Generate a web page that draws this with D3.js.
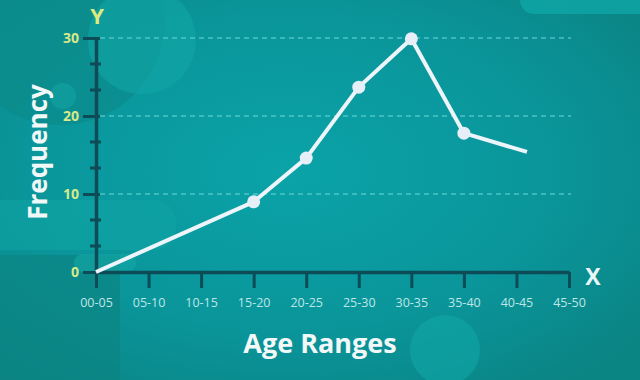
<!DOCTYPE html>
<html>
<head>
<meta charset="utf-8">
<script src="https://cdn.jsdelivr.net/npm/d3@7"></script>
<style>
  body { margin: 0; background: #0a8f93; }
  svg { display: block; font-family: "Open Sans", Lato, sans-serif; }
</style>
</head>
<body>
<div id="chart"></div>
<script>
var svgWidth = 640;
var svgHeight = 380;

// Category labels on the x axis (start age of each range)
var ageRanges = ["00-05", "05-10", "10-15", "15-20", "20-25", "25-30", "30-35", "35-40", "40-45", "45-50"];
var rangeStarts = [0, 5, 10, 15, 20, 25, 30, 35, 40, 45];

// Line data
var pointAges = [0, 15, 20, 25, 30, 35, 41];
var frequency = [0, 9, 14.6, 23.7, 29.9, 17.8, 15.4];
var hasMarker = [false, true, true, true, true, true, false];

// Y axis ticks
var yMajorTicks = [0, 10, 20, 30];
var yMinorTicks = [3.33, 6.67, 13.33, 16.67, 23.33, 26.67];
var gridTicks = [10, 20, 30];

var margin = { top: 38, right: 71, bottom: 108, left: 96 };
var chartWidth = svgWidth - margin.left - margin.right;
var chartHeight = svgHeight - margin.top - margin.bottom;

var svg = d3.select("#chart")
  .append("svg")
  .attr("width", svgWidth)
  .attr("height", svgHeight);

// Background gradient
var defs = svg.append("defs");
var grad = defs.append("radialGradient")
  .attr("id", "bg")
  .attr("cx", "45%").attr("cy", "45%").attr("r", "70%");
grad.append("stop").attr("offset", "0%").attr("stop-color", "#0aa3a8");
grad.append("stop").attr("offset", "60%").attr("stop-color", "#0a959a");
grad.append("stop").attr("offset", "100%").attr("stop-color", "#0b8484");

svg.append("rect")
  .attr("width", svgWidth)
  .attr("height", svgHeight)
  .attr("fill", "url(#bg)");

// Decorative shapes
var deco = svg.append("g");
deco.append("rect").attr("x", -20).attr("y", 255).attr("width", 140).attr("height", 140).attr("fill", "#0b8583").attr("opacity", 0.7);
deco.append("circle").attr("cx", 60).attr("cy", 20).attr("r", 105).attr("fill", "#0b8c8c").attr("opacity", 0.8);
deco.append("circle").attr("cx", 142).attr("cy", 40).attr("r", 54).attr("fill", "#12a8a8").attr("opacity", 0.55);
deco.append("circle").attr("cx", 63).attr("cy", 96).attr("r", 13).attr("fill", "#12a3a3").attr("opacity", 0.6);
deco.append("rect").attr("x", -20).attr("y", 200).attr("width", 196).attr("height", 50).attr("rx", 22).attr("fill", "#0fa4a4").attr("opacity", 0.6);
deco.append("rect").attr("x", 74).attr("y", 254).attr("width", 62).attr("height", 18).attr("rx", 9).attr("fill", "#12a8a6").attr("opacity", 0.6);
deco.append("rect").attr("x", 520).attr("y", -30).attr("width", 160).attr("height", 44).attr("rx", 14).attr("fill", "#0ea3a3").attr("opacity", 0.9);
deco.append("circle").attr("cx", 445).attr("cy", 350).attr("r", 35).attr("fill", "#10a7a7").attr("opacity", 0.6);

var chartGroup = svg.append("g")
  .attr("transform", `translate(${margin.left}, ${margin.top})`);

// Scales
var xScale = d3.scaleLinear()
  .domain([0, 45])
  .range([0, chartWidth]);

var yScale = d3.scaleLinear()
  .domain([0, 30])
  .range([chartHeight, 0]);

// Gridlines
chartGroup.append("g")
  .selectAll("line")
  .data(gridTicks)
  .enter()
  .append("line")
  .attr("x1", 4)
  .attr("x2", chartWidth + 2)
  .attr("y1", d => yScale(d))
  .attr("y2", d => yScale(d))
  .attr("stroke", "#6fd8dc")
  .attr("stroke-width", 1)
  .attr("stroke-dasharray", "5,4");

var axisColor = "#0d4b57";

// X axis
var bottomAxis = d3.axisBottom(xScale)
  .tickValues(rangeStarts)
  .tickFormat((d, i) => ageRanges[i])
  .tickSize(16)
  .tickSizeOuter(0);

var xAxis = chartGroup.append("g")
  .attr("transform", `translate(0, ${chartHeight})`)
  .call(bottomAxis);

xAxis.select(".domain").attr("stroke", axisColor).attr("stroke-width", 3.5);
xAxis.selectAll(".tick line").attr("stroke", axisColor).attr("stroke-width", 3);
xAxis.selectAll(".tick text")
  .attr("y", 26)
  .attr("fill", "#bfe6e6")
  .attr("font-size", 12.5)
  .attr("font-family", "'Open Sans', sans-serif");

// Y axis (major ticks)
var leftAxis = d3.axisLeft(yScale)
  .tickValues(yMajorTicks)
  .tickSize(13)
  .tickSizeOuter(0);

var yAxis = chartGroup.append("g")
  .call(leftAxis);

yAxis.select(".domain").attr("stroke", axisColor).attr("stroke-width", 3.5);
yAxis.selectAll(".tick line")
  .attr("x2", -13)
  .attr("x1", 4)
  .attr("stroke", axisColor)
  .attr("stroke-width", 3);
yAxis.selectAll(".tick text")
  .attr("x", -17)
  .attr("fill", "#d6e98a")
  .attr("font-size", 14)
  .attr("font-weight", "bold")
  .attr("font-family", "'Open Sans', sans-serif");

// Minor ticks
chartGroup.append("g")
  .selectAll("line")
  .data(yMinorTicks)
  .enter()
  .append("line")
  .attr("x1", -6)
  .attr("x2", 5)
  .attr("y1", d => yScale(d))
  .attr("y2", d => yScale(d))
  .attr("stroke", axisColor)
  .attr("stroke-width", 3);

// Line
var points = pointAges.map((a, i) => ({ x: a, y: frequency[i], m: hasMarker[i] }));

var createLine = d3.line()
  .x(d => xScale(d.x))
  .y(d => yScale(d.y));

chartGroup.append("path")
  .attr("d", createLine(points))
  .attr("fill", "none")
  .attr("stroke", "#eef5fa")
  .attr("stroke-width", 4)
  .attr("stroke-linejoin", "round");

chartGroup.selectAll("circle.pt")
  .data(points.filter(d => d.m))
  .enter()
  .append("circle")
  .attr("class", "pt")
  .attr("cx", d => xScale(d.x))
  .attr("cy", d => yScale(d.y))
  .attr("r", 6.5)
  .attr("fill", "#e6eef8");

// Axis letters
svg.append("text")
  .attr("x", 97)
  .attr("y", 24)
  .attr("text-anchor", "middle")
  .attr("fill", "#dfe97c")
  .attr("font-size", 22)
  .attr("font-weight", "bold")
  .text("Y");

svg.append("text")
  .attr("x", 593)
  .attr("y", 285)
  .attr("text-anchor", "middle")
  .attr("fill", "#e8f7f7")
  .attr("font-size", 23)
  .attr("font-weight", "bold")
  .text("X");

// Axis titles
svg.append("text")
  .attr("transform", "translate(47, 152) rotate(-90)")
  .attr("text-anchor", "middle")
  .attr("fill", "#f2f8f8")
  .attr("font-size", 26)
  .attr("font-weight", "bold")
  .text("Frequency");

svg.append("text")
  .attr("x", 320)
  .attr("y", 353)
  .attr("text-anchor", "middle")
  .attr("fill", "#f2f8f8")
  .attr("font-size", 27)
  .attr("font-weight", "bold")
  .text("Age Ranges");
</script>
</body>
</html>
